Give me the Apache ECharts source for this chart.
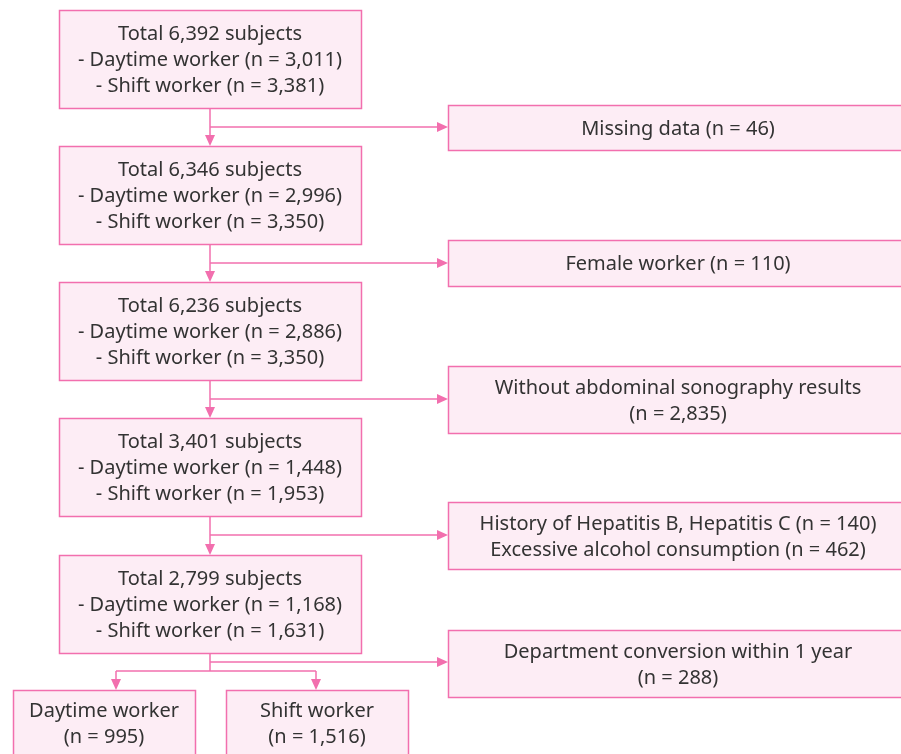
<!DOCTYPE html>
<html>
<head>
<meta charset="utf-8">
<script src="https://cdn.jsdelivr.net/npm/echarts@6/dist/echarts.min.js"></script>
<style>
  html, body { margin: 0; padding: 0; background: #fff; }
  #chart { width: 901px; height: 754px; }
</style>
</head>
<body>
<div id="chart"></div>
<script>
// main flow steps (left column)
const stepTotals = ['6,392', '6,346', '6,236', '3,401', '2,799']
const stepDaytime = ['3,011', '2,996', '2,886', '1,448', '1,168']
const stepShift = ['3,381', '3,350', '3,350', '1,953', '1,631']

// exclusions (right column)
const exclusionLabels = [
  'Missing data (n = 46)',
  'Female worker (n = 110)',
  'Without abdominal sonography results\n(n = 2,835)',
  'History of Hepatitis B, Hepatitis C (n = 140)\nExcessive alcohol consumption (n = 462)',
  'Department conversion within 1 year\n(n = 288)'
]

// final groups
const finalGroups = ['Daytime worker', 'Shift worker']
const finalCounts = ['995', '1,516']

// layout
const mainX = 59, mainW = 302, mainH = 98
const mainY = [10, 146, 282, 418, 555]
const exclX = 448, exclW = 460
const exclY = [105, 240, 366, 502, 630]
const exclH = [45, 46, 67, 67, 67]
const arrowY = [127, 263, 399, 535, 662]
const finalX = [13, 226], finalW = 182, finalY = 690
const spineX = 210, splitY = 671

const border = '#f26fae'
const fill = '#fdedf5'
const textColor = '#333'
const font = '"Noto Sans", sans-serif'

const elements = []

const label = (cx, cy, text) => {
  elements.push({
    type: 'text',
    x: cx,
    y: cy + 1.5,
    style: {
      text: text,
      fill: textColor,
      font: '20px ' + font,
      lineHeight: 26,
      align: 'center',
      verticalAlign: 'middle'
    }
  })
}

const box = (x, y, w, h, text) => {
  elements.push({
    type: 'rect',
    shape: { x: x + 0.5, y: y + 0.5, width: w, height: h },
    style: { fill: fill, stroke: border, lineWidth: 1.5 }
  })
  if (text) label(x + w / 2, y + h / 2, text)
}

const line = (x1, y1, x2, y2) => {
  elements.push({
    type: 'line',
    shape: { x1: x1, y1: y1, x2: x2, y2: y2 },
    style: { stroke: border, lineWidth: 1.5 }
  })
}

const headDown = (x, y) => {
  elements.push({
    type: 'polygon',
    shape: { points: [[x - 5, y - 11], [x + 5, y - 11], [x, y]] },
    style: { fill: border }
  })
}

const headRight = (x, y) => {
  elements.push({
    type: 'polygon',
    shape: { points: [[x - 11, y - 5], [x - 11, y + 5], [x, y]] },
    style: { fill: border }
  })
}

// connectors
for (let i = 0; i < mainY.length; i++) {
  const bottom = mainY[i] + mainH
  if (i < mainY.length - 1) {
    line(spineX, bottom, spineX, mainY[i + 1] - 2)
    headDown(spineX, mainY[i + 1])
  } else {
    line(spineX, bottom, spineX, splitY)
  }
  line(spineX, arrowY[i], exclX - 2, arrowY[i])
  headRight(exclX, arrowY[i])
}

// split to final groups
line(116, splitY, 316, splitY)
;[116, 316].forEach(x => {
  line(x, splitY, x, finalY - 2)
  headDown(x, finalY)
})

// boxes
stepTotals.forEach((t, i) => {
  box(mainX, mainY[i], mainW, mainH,
    'Total ' + t + ' subjects\n- Daytime worker (n = ' + stepDaytime[i] + ')\n- Shift worker (n = ' + stepShift[i] + ')')
})
exclusionLabels.forEach((t, i) => {
  box(exclX, exclY[i], exclW, exclH[i], t)
})
finalGroups.forEach((g, i) => {
  box(finalX[i], finalY, finalW, 80, null)
  label(finalX[i] + finalW / 2, 723, g + '\n(n = ' + finalCounts[i] + ')')
})

const chart = echarts.init(document.getElementById('chart'))
chart.setOption({
  backgroundColor: '#fff',
  graphic: { elements: elements }
})
</script>
</body>
</html>
